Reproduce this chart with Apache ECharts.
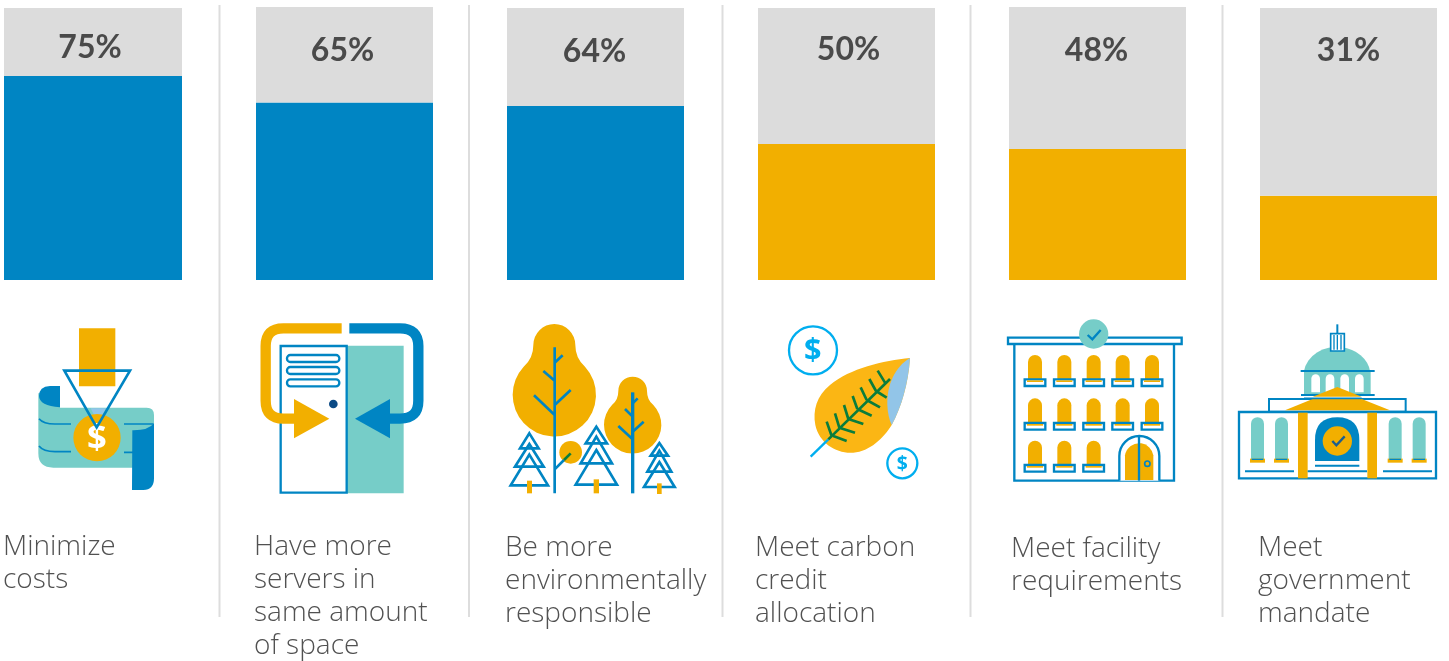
<!DOCTYPE html>
<html>
<head>
<meta charset="utf-8">
<script src="https://cdn.jsdelivr.net/npm/echarts@6/dist/echarts.min.js"></script>
<style>html,body{margin:0;padding:0;background:#fff}#c{width:1449px;height:661px}</style>
</head>
<body>
<div id="c"></div>
<script>
// ---- data ----
const categories = [
  ['Minimize', 'costs'],
  ['Have more', 'servers in', 'same amount', 'of space'],
  ['Be more', 'environmentally', 'responsible'],
  ['Meet carbon', 'credit', 'allocation'],
  ['Meet facility', 'requirements'],
  ['Meet', 'government', 'mandate']
];
const values = [75, 65, 64, 50, 48, 31];

// ---- layout and style ----
const BLUE = '#0085c3', YEL = '#f2af00', TEAL = '#76cdc8', LBLUE = '#92c5e8', CYAN = '#00aeef', GREEN = '#0a7d3c', DARK = '#0b4a85';
const barColors = [BLUE, BLUE, BLUE, YEL, YEL, YEL];
const barLefts = [4, 256, 507, 758, 1009, 1260];
const barWidths = [178, 177, 177, 177, 177, 177];
const barTops = [8, 7, 8, 8, 7, 8];
const barBottom = 280;
const labelLefts = [3, 254, 505, 755, 1011, 1258];
const labelTops = [531, 531, 532, 532, 533, 532];
const pctDrop = [24, 28, 28, 26, 28, 27];
const pctShift = [-3, -2, -1, 2, -1, 0];
const separators = [219.5, 469, 722.5, 970.5, 1222.5];

// ---- icon helpers (drawn at 3x inside a scaled group) ----
const p = (d, fill, stroke, lw) => ({type: 'path', shape: {pathData: d}, style: {fill: fill || 'none', stroke: stroke || 'none', lineWidth: lw || 0, lineJoin: 'miter'}});
const c = (x, y, r, fill, stroke, lw) => ({type: 'circle', shape: {cx: x, cy: y, r}, style: {fill: fill || 'none', stroke: stroke || 'none', lineWidth: lw || 0}});
const r = (x, y, w, h, fill, stroke, lw, rad) => ({type: 'rect', shape: {x, y, width: w, height: h, r: rad || 0}, style: {fill: fill || 'none', stroke: stroke || 'none', lineWidth: lw || 0}});
const t = (s, x, y, size, fill) => ({type: 'text', style: {text: s, x, y, fill, font: 'bold ' + size + 'px "Open Sans"', textAlign: 'center', textVerticalAlign: 'middle'}});
const tri = (cx, top, base, hw, lw) => p(`M${cx} ${top}L${cx + hw} ${base}L${cx - hw} ${base}Z`, 'none', BLUE, lw);

function iconMoney() {
  return [
    r(237, 55, 109, 174, YEL),
    p('M115 250L115 430Q115 473 160 473L462 473L462 315Q462 293 440 293L180 293L180 240Z', TEAL),
    p('M180 228L150 228Q117 230 117 258Q118 288 180 292Z', BLUE),
    p('M117 326Q130 342 165 342L213 342M117 408Q130 425 165 425L213 425M372 342L460 342M372 427L400 427', 'none', BLUE, 5),
    p('M272 295L318 295L303 322L286 322Z', LBLUE),
    c(291, 383, 71, YEL),
    p('M397 361Q445 362 462 340L462 505Q462 540 430 540L396 540Z', BLUE),
    t('$', 291, 388, 104, '#fff'),
    p('M193 182L390 182L290 352Z', 'none', BLUE, 8)
  ];
}
function iconServer() {
  return [
    r(320, 107, 171, 443, TEAL),
    r(122, 108, 198, 440, '#fff', BLUE, 7),
    r(141, 135, 157, 21, '#fff', BLUE, 7, 10),
    r(141, 171, 157, 21, '#fff', BLUE, 7, 10),
    r(141, 208, 157, 21, '#fff', BLUE, 7, 10),
    c(280, 282, 13, DARK),
    p('M305 55L130 55Q77 55 77 108L77 272Q77 326 130 326L175 326', 'none', YEL, 31),
    p('M162 267L268 326L162 385Z', YEL),
    p('M328 55L480 55Q535 55 535 108L535 272Q535 326 480 326L440 326', 'none', BLUE, 31),
    p('M450 267L345 326L450 385Z', BLUE)
  ];
}
function iconTrees() {
  return [
    p('M130 105A63 63 0 0 1 256 105Q256 145 285 170A125 125 0 1 1 101 170Q130 145 130 105Z', YEL),
    p('M385 243A43 43 0 0 1 471 243Q471 270 490 285A86 86 0 1 1 366 285Q385 270 385 243Z', YEL),
    c(242, 427, 34, YEL),
    p('M194 112L194 550M194 158L218 136M194 212L160 183M194 285L242 240M194 315L132 256M194 478L222 450', 'none', BLUE, 8),
    p('M222 450L242 430', 'none', GREEN, 8),
    p('M428 247L428 550', 'none', BLUE, 10),
    p('M428 280L443 265M428 320L405 297M428 365L461 335M428 388L385 348', 'none', BLUE, 8),
    tri(118, 370, 415, 28, 8), tri(118, 402, 470, 43, 8), tri(118, 434, 526, 56, 8),
    r(111, 512, 15, 38, YEL),
    tri(319, 350, 400, 32, 8), tri(319, 380, 460, 47, 8), tri(319, 420, 524, 62, 8),
    r(311, 508, 16, 42, YEL),
    tri(508, 399, 437, 26, 8), tri(508, 422, 485, 36, 8), tri(508, 456, 531, 46, 8),
    r(501, 520, 14, 32, YEL)
  ];
}
function iconLeaf() {
  return [
    c(129, 121, 72, '#fff', CYAN, 7),
    t('$', 128, 124, 92, CYAN),
    c(397, 460, 45, '#fff', CYAN, 7),
    t('$', 397, 462, 58, CYAN),
    p('M420 144C340 152 240 175 180 225C140 258 128 300 136 345C148 400 200 432 250 428C300 424 340 385 365 345C395 290 415 220 420 144Z', '#fbb614'),
    p('M420 144C375 170 350 225 352 285C353 310 358 330 365 345C395 290 415 220 420 144Z', LBLUE),
    p('M122 440L175 388', 'none', CYAN, 7),
    p('M175 388L360 207M185 378L170 335M208 353L195 310M235 327L222 285M262 297L248 258M290 270L272 232M318 243L298 207M345 218L323 182M190 378L230 393M208 353L255 368M235 327L280 342M262 297L305 317M290 270L330 292M318 243L350 263', 'none', GREEN, 8)
  ];
}
function iconFacility() {
  const out = [r(43, 100, 479, 412, '#fff', BLUE, 7)];
  const xs = [105, 193, 281, 368, 456];
  const rows = [[135, 210, 208], [265, 340, 339], [392, 468, 465]];
  rows.forEach((row, ri) => {
    xs.forEach((x, xi) => {
      if (ri === 2 && xi > 2) return;
      const top = row[0], bot = row[1], sill = row[2];
      out.push(p(`M${x - 21} ${bot}L${x - 21} ${top + 21}A21 21 0 0 1 ${x + 21} ${top + 21}L${x + 21} ${bot}Z`, YEL));
      out.push(r(x - 31, sill, 62, 20, '#fff', BLUE, 7));
      out.push(r(x - 24, sill + 3, 48, 5, YEL));
    });
  });
  out.push(p('M358 512L358 438A60 60 0 0 1 478 438L478 512', '#fff', BLUE, 7));
  out.push(p('M375 510L375 436A43 43 0 0 1 460 436L460 510Z', YEL));
  out.push(p('M417 378L417 512', 'none', BLUE, 7));
  out.push(c(442, 461, 8, YEL, BLUE, 5));
  out.push(r(24, 83, 521, 19, '#fff', BLUE, 7));
  out.push(c(281, 72, 44, TEAL));
  out.push(p('M263 75L277 88L302 60', 'none', BLUE, 7));
  return out;
}
function iconCapitol() {
  const out = [
    p('M322 28L322 56', 'none', BLUE, 6),
    p('M222 168A100 84 0 0 1 420 168Z', TEAL),
    r(302, 56, 41, 52, '#fff', BLUE, 5),
    p('M312 60L312 104M322 60L322 104M333 60L333 104', 'none', BLUE, 4),
    r(222, 170, 200, 70, TEAL)
  ];
  [257, 300, 344, 388].forEach(x => out.push(p(`M${x - 13} 232L${x - 13} 191A13 13 0 0 1 ${x + 13} 191L${x + 13} 232Z`, '#fff')));
  out.push(p('M212 168L434 168M213 240L434 240', 'none', BLUE, 6));
  out.push(r(117, 252, 410, 38, '#fff', BLUE, 6));
  out.push(r(27, 291, 591, 199, '#fff', BLUE, 7));
  out.push(p('M248 245L322 216L395 245Z', YEL));
  out.push(p('M165 286L248 252L395 252L480 286Z', YEL));
  out.push(p('M222 250L395 250', 'none', BLUE, 5));
  [63, 135, 476, 548].forEach(x => {
    out.push(p(`M${x} 432L${x} 326A19.5 19.5 0 0 1 ${x + 39} 326L${x + 39} 432Z`, TEAL));
    out.push(r(x - 3, 431, 45, 12, YEL));
    out.push(r(x + 2, 431, 35, 4, BLUE));
  });
  out.push(r(204, 293, 29, 197, YEL));
  out.push(r(412, 293, 29, 197, YEL));
  out.push(p('M255 438L255 375Q255 307 322 307Q388 307 388 375L388 438Z', BLUE));
  out.push(c(322, 378, 44, YEL));
  out.push(p('M307 378L319 391L344 364', 'none', '#1b5e8f', 7));
  out.push(p('M45 469L192 469M233 469L411 469M459 469L606 469M255 452L388 452', 'none', BLUE, 6));
  return out;
}
const icons = [
  {x: 0, y: 310, make: iconMoney},
  {x: 240, y: 310, make: iconServer},
  {x: 490, y: 310, make: iconTrees},
  {x: 770, y: 310, make: iconLeaf},
  {x: 1000, y: 310, make: iconFacility},
  {x: 1230, y: 315, make: iconCapitol}
];

// ---- option ----
const grids = [], xAxes = [], yAxes = [], series = [];
values.forEach((v, i) => {
  grids.push({left: barLefts[i], top: barTops[i], width: barWidths[i], height: barBottom - barTops[i]});
  xAxes.push({type: 'category', gridIndex: i, data: [categories[i].join(' ')], show: false});
  yAxes.push({type: 'value', gridIndex: i, min: 0, max: 100, show: false});
  series.push({type: 'bar', xAxisIndex: i, yAxisIndex: i, stack: 's' + i, barWidth: '100%', data: [v], itemStyle: {color: barColors[i]}, silent: true});
  series.push({type: 'bar', xAxisIndex: i, yAxisIndex: i, stack: 's' + i, barWidth: '100%', data: [100 - v], itemStyle: {color: '#dcdcdc'}, silent: true,
    label: {show: true, position: 'insideTop', distance: pctDrop[i], offset: [pctShift[i], 0], formatter: () => v + '%', color: '#4a4a4a', fontFamily: 'Lato', fontWeight: 'bold', fontSize: 32}});
});
series.push({
  type: 'custom', coordinateSystem: 'none', silent: true, clip: false,
  data: icons.map((_, i) => [i]),
  renderItem: (params) => {
    const ic = icons[params.dataIndex];
    return {type: 'group', x: ic.x, y: ic.y, scaleX: 1 / 3, scaleY: 1 / 3, children: ic.make()};
  }
});

const graphic = [];
separators.forEach(x => graphic.push({type: 'line', shape: {x1: x, y1: 5, x2: x, y2: 617}, style: {stroke: '#dddddd', lineWidth: 2}, silent: true}));
categories.forEach((lines, i) => graphic.push({
  type: 'text', left: labelLefts[i], top: labelTops[i], silent: true,
  style: {text: lines.join('\n'), fill: '#515151', font: '300 28px "Open Sans"', lineHeight: 33}
}));

const chart = echarts.init(document.getElementById('c'), null, {renderer: 'canvas'});
chart.setOption({animation: false, backgroundColor: '#fff', grid: grids, xAxis: xAxes, yAxis: yAxes, series, graphic});
</script>
</body>
</html>
